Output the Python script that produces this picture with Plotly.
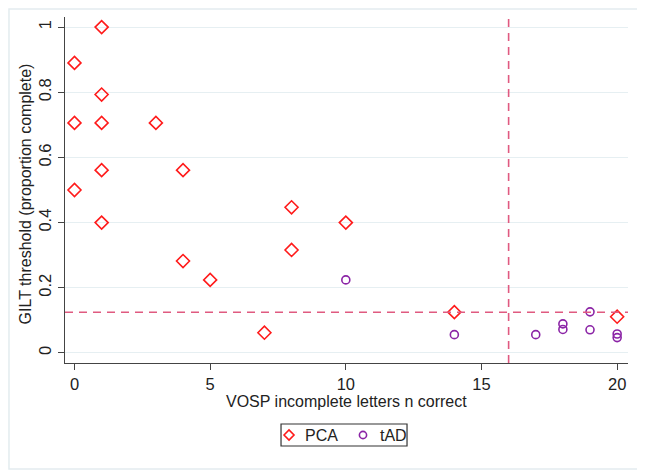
import plotly.graph_objects as go

# PCA group
pca_x = [0, 0, 0, 1, 1, 1, 1, 1, 3, 4, 4, 5, 7, 8, 8, 10, 14, 20]
pca_y = [0.89, 0.706, 0.50, 1.0, 0.793, 0.706, 0.561, 0.40, 0.706, 0.561, 0.282,
         0.224, 0.062, 0.447, 0.316, 0.40, 0.125, 0.111]
# tAD group
tad_x = [10, 14, 17, 18, 18, 19, 19, 20, 20]
tad_y = [0.224, 0.056, 0.056, 0.089, 0.072, 0.126, 0.071, 0.058, 0.047]

cutoff_x = 16
cutoff_y = 0.125

x_ticks = [0, 5, 10, 15, 20]
y_ticks = [0, 0.2, 0.4, 0.6, 0.8, 1]
y_tick_text = ["0", "0.2", "0.4", "0.6", "0.8", "1"]

x_title = "VOSP incomplete letters n correct"
y_title = "GILT threshold (proportion complete)"
legend_names = ["PCA", "tAD"]

font_family = "Liberation Sans, Arial, sans-serif"
red = "#FF1A1A"
purple = "#8B24A6"
dash_col = "#E05A80"
text_col = "#222222"

fig = go.Figure()
fig.add_trace(go.Scatter(
    x=pca_x, y=pca_y, mode="markers", name=legend_names[0], showlegend=False,
    marker=dict(symbol="diamond-open", size=10, color=red, line=dict(width=1.6, color=red)),
))
fig.add_trace(go.Scatter(
    x=tad_x, y=tad_y, mode="markers", name=legend_names[1], showlegend=False,
    marker=dict(symbol="circle-open", size=8, color=purple, line=dict(width=1.6, color=purple)),
))

fig.add_shape(type="line", xref="x", yref="paper", x0=cutoff_x, x1=cutoff_x, y0=0, y1=1,
              line=dict(color=dash_col, width=1.6, dash="8px,6px"))
fig.add_shape(type="line", xref="paper", yref="y", x0=0, x1=1, y0=cutoff_y, y1=cutoff_y,
              line=dict(color=dash_col, width=1.6, dash="8px,6px"))
# outer frame
fig.add_shape(type="rect", xref="paper", yref="paper", x0=-0.0995, x1=1.028, y0=-0.306, y1=1.023,
              line=dict(color="#E3ECEF", width=1.5), fillcolor="rgba(0,0,0,0)", layer="below")

# manual legend (box + symbols + labels)
fig.add_shape(type="rect", xref="paper", yref="paper", x0=0.3837, x1=0.6075, y0=-0.2399, y1=-0.1763,
              line=dict(color="#333333", width=1.2), fillcolor="white")
dx, dy = 5 / 563, 5 / 346
lx, ly = 0.3979, -0.2081
fig.add_shape(type="path", xref="paper", yref="paper",
              path=f"M {lx - dx} {ly} L {lx} {ly + dy} L {lx + dx} {ly} L {lx} {ly - dy} Z",
              line=dict(color=red, width=1.6), fillcolor="rgba(0,0,0,0)")
cx, rx, ry = 0.5293, 3.6 / 563, 3.6 / 346
fig.add_shape(type="circle", xref="paper", yref="paper",
              x0=cx - rx, x1=cx + rx, y0=ly - ry, y1=ly + ry,
              line=dict(color=purple, width=1.6), fillcolor="rgba(0,0,0,0)")
fig.add_annotation(text=legend_names[0], xref="paper", yref="paper", x=0.4222, y=ly,
                   xanchor="left", yanchor="middle", showarrow=False,
                   font=dict(size=16, color=text_col))
fig.add_annotation(text=legend_names[1], xref="paper", yref="paper", x=0.556, y=ly,
                   xanchor="left", yanchor="middle", showarrow=False,
                   font=dict(size=16, color=text_col))

# axis titles
fig.add_annotation(text=x_title, xref="paper", yref="paper", x=0.5, y=-0.112,
                   xanchor="center", yanchor="middle", showarrow=False,
                   font=dict(size=16, color=text_col))
fig.add_annotation(text=y_title, xref="paper", yref="paper", x=-0.0705, y=0.488,
                   xanchor="center", yanchor="middle", showarrow=False, textangle=-90,
                   font=dict(size=16, color=text_col))

fig.update_layout(
    width=637, height=462,
    margin=dict(l=57, r=17, t=9, b=107, autoexpand=False),
    paper_bgcolor="white", plot_bgcolor="white",
    font=dict(family=font_family, size=16, color=text_col),
    showlegend=False,
    xaxis=dict(range=[-0.35, 20.4], tickvals=x_ticks, ticks="outside", ticklen=6,
               tickcolor="#444444", showline=True, linecolor="#444444", linewidth=1.2,
               showgrid=False, zeroline=False, automargin=False, tickfont=dict(size=16.5)),
    yaxis=dict(range=[-0.031, 1.031], tickvals=y_ticks, ticktext=y_tick_text, tickangle=-90,
               ticks="outside", ticklen=6, tickcolor="#444444",
               showline=True, linecolor="#444444", linewidth=1.2, automargin=False,
               showgrid=True, gridcolor="#E6EFF2", gridwidth=1.2, zeroline=False,
               tickfont=dict(size=16.5)),
)

fig.write_html("out.html")
